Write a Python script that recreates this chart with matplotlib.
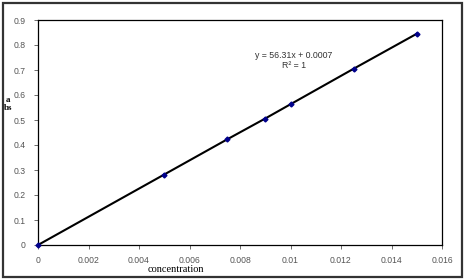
import matplotlib.pyplot as plt
from matplotlib.patches import Rectangle
import numpy as np

# Kalibrasyon verileri
concentration = [0, 0.005, 0.0075, 0.009, 0.01, 0.0125, 0.015]
absorbance = [0, 0.282, 0.423, 0.506, 0.563, 0.705, 0.845]
x_ticks = [0, 0.002, 0.004, 0.006, 0.008, 0.01, 0.012, 0.014, 0.016]
x_tick_labels = ['0', '0.002', '0.004', '0.006', '0.008', '0.01', '0.012', '0.014', '0.016']
y_ticks = [0, 0.1, 0.2, 0.3, 0.4, 0.5, 0.6, 0.7, 0.8, 0.9]
y_tick_labels = ['0', '0.1', '0.2', '0.3', '0.4', '0.5', '0.6', '0.7', '0.8', '0.9']

fig = plt.figure(figsize=(4.72, 2.8), dpi=100)
ax = fig.add_axes([38 / 472, 1 - 245 / 280, (442 - 38) / 472, (245 - 20) / 280])

# Dış çerçeve
fig.patches.append(Rectangle((3 / 472, 3 / 280), 459 / 472, 274 / 280,
                             transform=fig.transFigure, fill=False,
                             edgecolor='#333333', linewidth=1.6))

ax.plot(concentration, absorbance, color='black', linewidth=1.5, zorder=2)
ax.plot(concentration, absorbance, linestyle='none', marker='D', markersize=2.5,
        color='#00008b', zorder=3, clip_on=False)

ax.set_xlim(0, 0.016)
ax.set_ylim(0, 0.9)
ax.set_xticks(x_ticks)
ax.set_xticklabels(x_tick_labels)
ax.set_yticks(y_ticks)
ax.set_yticklabels(y_tick_labels)
ax.tick_params(direction='out', length=3, width=0.6, labelsize=6.2,
               labelcolor='#555555', color='#555555')
ax.tick_params(axis='x', pad=5)
ax.tick_params(axis='y', pad=6)
for lbl in ax.get_xticklabels() + ax.get_yticklabels():
    lbl.set_family('Liberation Sans')
for s in ax.spines.values():
    s.set_linewidth(0.9)

ax.text(0.01014, 0.738, 'y = 56.31x + 0.0007\nR\u00b2 = 1', ha='center', va='center',
        fontsize=6.3, color='#333333', family='Liberation Sans', linespacing=1.05)

fig.text(8 / 472, 1 - 104 / 280, 'a\nbs', ha='center', va='center', fontsize=6.5,
         family='Liberation Serif', fontweight='bold', linespacing=1.0)
fig.text(176 / 472, 1 - 269 / 280, 'concentration', ha='center', va='center',
         fontsize=7.5, family='Liberation Serif')

fig.savefig('out.png', dpi=100)
